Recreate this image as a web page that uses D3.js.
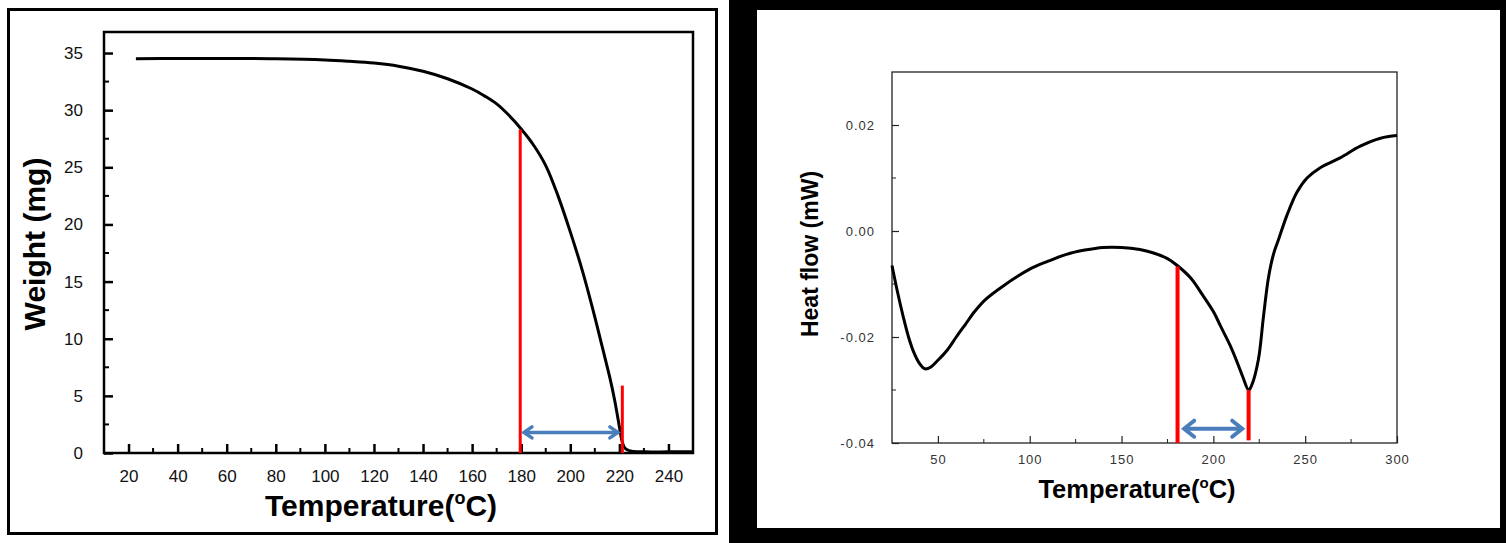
<!DOCTYPE html>
<html><head><meta charset="utf-8">
<script src="https://cdn.jsdelivr.net/npm/d3@7"></script>
<style>
html,body{margin:0;padding:0;background:#fff;}
svg{display:block;}
text{font-family:Arial,"Liberation Sans",sans-serif;}
</style></head>
<body>
<svg id="chart" width="1506" height="543"></svg>
<script>
// ---------- TGA (left) data ----------
const tgaTemp   = [23, 40, 60, 80, 100, 110, 120, 130, 140, 150, 160, 165, 170, 175, 180, 185, 190, 195, 200, 205, 210, 213, 216, 218, 220, 221, 222, 223, 225, 230, 240, 250];
const tgaWeight = [34.5, 34.52, 34.52, 34.5, 34.4, 34.28, 34.12, 33.85, 33.4, 32.75, 31.85, 31.25, 30.55, 29.55, 28.35, 26.95, 25.15, 22.5, 19.35, 15.9, 11.9, 9.3, 6.7, 4.7, 2.3, 1.1, 0.5, 0.3, 0.15, 0.1, 0.1, 0.1];
const tgaXTicks = [20, 40, 60, 80, 100, 120, 140, 160, 180, 200, 220, 240];
const tgaYTicks = [0, 5, 10, 15, 20, 25, 30, 35];
const tgaRedLines = [[179.6, 28.3], [221.2, 5.9]];   // [temperature, top weight]
const tgaArrow = [180.3, 220.2, 1.8];                  // [from, to, weight]

// ---------- DSC (right) data ----------
const dscTemp = [25, 28, 31, 34, 37, 40, 43, 46, 50, 55, 60, 65, 70, 76, 85, 100, 110, 120, 130, 140, 150, 160, 167, 175, 181, 188, 194, 200, 204, 209, 213, 216, 219.2, 221, 224.5, 227.3, 230, 232.8, 235.5, 240, 245.5, 251, 258, 269, 280, 291, 300];
const dscHeat = [-0.0065, -0.0115, -0.0160, -0.0200, -0.0230, -0.0250, -0.0260, -0.0257, -0.0244, -0.0225, -0.0200, -0.0176, -0.0152, -0.0129, -0.0105, -0.0072, -0.0057, -0.0044, -0.0036, -0.0031, -0.0031, -0.0035, -0.0041, -0.0052, -0.0067, -0.0090, -0.0120, -0.0152, -0.0180, -0.0215, -0.0248, -0.0275, -0.0300, -0.0290, -0.0243, -0.0161, -0.0088, -0.0043, -0.0016, 0.0029, 0.0073, 0.0100, 0.0119, 0.0138, 0.0160, 0.0175, 0.0180];
const dscXTicks = [50, 100, 150, 200, 250, 300];
const dscYTicks = [-0.04, -0.02, 0.00, 0.02];
const dscRedLines = [[180.5, -0.04, -0.0067], [219.2, -0.0395, -0.0300]]; // [temp, bottom, top]
const dscArrow = [183, 216.8, -0.0373];

const svg = d3.select("#chart");

function chevron(g, x, y, dir, color, w, len, half) {
  g.append("path")
    .attr("d", `M${x + dir * len},${y - half} L${x},${y} L${x + dir * len},${y + half}`)
    .attr("fill", "none").attr("stroke", color).attr("stroke-width", w)
    .attr("stroke-linejoin", "miter").attr("stroke-linecap", "round");
}

// ================= LEFT PANEL =================
svg.append("rect").attr("x", 8.5).attr("y", 9.5).attr("width", 708).attr("height", 524)
  .attr("fill", "#fff").attr("stroke", "#000").attr("stroke-width", 3);

{
  const L = 104, R = 693, T = 32, B = 453;
  const x = d3.scaleLinear().domain([10, 250]).range([L, R]);
  const y = d3.scaleLinear().domain([0, 36.84]).range([B, T]);
  const g = svg.append("g");

  const xMinor = d3.range(30, 250, 20);
  g.selectAll(".xm").data(xMinor).join("line")
    .attr("x1", d => x(d)).attr("x2", d => x(d)).attr("y1", B).attr("y2", B - 5)
    .attr("stroke", "#000").attr("stroke-width", 2);
  const yMinor = d3.range(2.5, 36, 5);
  g.selectAll(".ym").data(yMinor).join("line")
    .attr("x1", L).attr("x2", L + 5).attr("y1", d => y(d)).attr("y2", d => y(d))
    .attr("stroke", "#000").attr("stroke-width", 2);

  const xAxis = d3.axisBottom(x).tickValues(tgaXTicks).tickSizeInner(-9).tickSizeOuter(0).tickPadding(17);
  const gx = g.append("g").attr("transform", `translate(0,${B})`).call(xAxis);
  gx.select(".domain").remove();
  gx.selectAll(".tick line").attr("stroke", "#000").attr("stroke-width", 2.5);
  gx.selectAll(".tick text").attr("font-size", 17).attr("fill", "#111")
    .attr("font-family", 'Arial,"Liberation Sans",sans-serif');

  const yAxis = d3.axisLeft(y).tickValues(tgaYTicks).tickSizeInner(-9).tickSizeOuter(0).tickPadding(21);
  const gy = g.append("g").attr("transform", `translate(${L},0)`).call(yAxis);
  gy.select(".domain").remove();
  gy.selectAll(".tick line").attr("stroke", "#000").attr("stroke-width", 2.5);
  gy.selectAll(".tick text").attr("font-size", 17).attr("fill", "#111")
    .attr("font-family", 'Arial,"Liberation Sans",sans-serif');

  g.append("rect").attr("x", L).attr("y", T).attr("width", R - L).attr("height", B - T)
    .attr("fill", "none").attr("stroke", "#000").attr("stroke-width", 2.5);

  const line = d3.line().x(d => x(d[0])).y(d => y(d[1])).curve(d3.curveCatmullRom.alpha(0.5));
  g.append("path").datum(d3.zip(tgaTemp, tgaWeight)).attr("d", line)
    .attr("fill", "none").attr("stroke", "#000").attr("stroke-width", 3);

  g.selectAll(".red").data(tgaRedLines).join("line")
    .attr("x1", d => x(d[0])).attr("x2", d => x(d[0]))
    .attr("y1", B).attr("y2", d => y(d[1]))
    .attr("stroke", "#ff0000").attr("stroke-width", 3);

  const ay = y(tgaArrow[2]), ax1 = x(tgaArrow[0]), ax2 = x(tgaArrow[1]);
  g.append("line").attr("x1", ax1 + 2).attr("x2", ax2 - 2).attr("y1", ay).attr("y2", ay)
    .attr("stroke", "#4a7ebb").attr("stroke-width", 3.5);
  chevron(g, ax1 + 2, ay, 1, "#4a7ebb", 3.5, 8, 5.5);
  chevron(g, ax2 - 2, ay, -1, "#4a7ebb", 3.5, 8, 5.5);

  const xt = g.append("text").attr("x", 381).attr("y", 516).attr("text-anchor", "middle")
    .attr("font-size", 30).attr("font-weight", "bold").attr("fill", "#000");
  xt.append("tspan").text("Temperature(");
  xt.append("tspan").attr("font-size", 18).attr("dy", -12).text("o");
  xt.append("tspan").attr("dy", 12).text("C)");

  g.append("text").attr("transform", "translate(45,244) rotate(-90)").attr("text-anchor", "middle")
    .attr("font-size", 30).attr("font-weight", "bold").attr("fill", "#000").text("Weight (mg)");
}

// ================= RIGHT PANEL =================
svg.append("rect").attr("x", 729).attr("y", 0).attr("width", 777).attr("height", 543).attr("fill", "#000");
svg.append("rect").attr("x", 757).attr("y", 10).attr("width", 743).attr("height", 518).attr("fill", "#fff");

{
  const L = 892, R = 1397, T = 72, B = 443;
  const x = d3.scaleLinear().domain([25, 300]).range([L, R]);
  const y = d3.scaleLinear().domain([-0.04, 0.03]).range([B, T]);
  const g = svg.append("g");
  const axCol = "#222";

  const xMinor = d3.range(75, 300, 50);
  g.selectAll(".xm").data(xMinor).join("line")
    .attr("x1", d => x(d)).attr("x2", d => x(d)).attr("y1", B).attr("y2", B - 4)
    .attr("stroke", axCol).attr("stroke-width", 1);
  const yMinor = [-0.03, -0.01, 0.01];
  g.selectAll(".ym").data(yMinor).join("line")
    .attr("x1", L).attr("x2", L + 4).attr("y1", d => y(d)).attr("y2", d => y(d))
    .attr("stroke", axCol).attr("stroke-width", 1);

  const xAxis = d3.axisBottom(x).tickValues(dscXTicks).tickSizeInner(-7).tickSizeOuter(0).tickPadding(12);
  const gx = g.append("g").attr("transform", `translate(0,${B})`).call(xAxis);
  gx.select(".domain").remove();
  gx.selectAll(".tick line").attr("stroke", axCol).attr("stroke-width", 1.2);
  gx.selectAll(".tick text").attr("font-size", 13).attr("fill", "#333").attr("letter-spacing", 1)
    .attr("font-family", 'Arial,"Liberation Sans",sans-serif');

  const yAxis = d3.axisLeft(y).tickValues(dscYTicks).tickFormat(d3.format(".2f")).tickSizeInner(-7).tickSizeOuter(0).tickPadding(17);
  const gy = g.append("g").attr("transform", `translate(${L},0)`).call(yAxis);
  gy.select(".domain").remove();
  gy.selectAll(".tick line").attr("stroke", axCol).attr("stroke-width", 1.2);
  gy.selectAll(".tick text").attr("font-size", 13).attr("fill", "#333").attr("letter-spacing", 1)
    .attr("font-family", 'Arial,"Liberation Sans",sans-serif')
    .text(d => d3.format(".2f")(d).replace("−", "-"));

  g.append("rect").attr("x", L).attr("y", T).attr("width", R - L).attr("height", B - T)
    .attr("fill", "none").attr("stroke", axCol).attr("stroke-width", 1.3);

  const line = d3.line().x(d => x(d[0])).y(d => y(d[1])).curve(d3.curveCatmullRom.alpha(0.5));
  g.append("path").datum(d3.zip(dscTemp, dscHeat)).attr("d", line)
    .attr("fill", "none").attr("stroke", "#000").attr("stroke-width", 3);

  g.selectAll(".red").data(dscRedLines).join("line")
    .attr("x1", d => x(d[0])).attr("x2", d => x(d[0]))
    .attr("y1", d => y(d[1])).attr("y2", d => y(d[2]))
    .attr("stroke", "#ff0000").attr("stroke-width", 4);

  const ay = y(dscArrow[2]), ax1 = x(dscArrow[0]), ax2 = x(dscArrow[1]);
  g.append("line").attr("x1", ax1 + 2).attr("x2", ax2 - 2).attr("y1", ay).attr("y2", ay)
    .attr("stroke", "#4a7ebb").attr("stroke-width", 4);
  chevron(g, ax1 + 2, ay, 1, "#4a7ebb", 4, 10, 8);
  chevron(g, ax2 - 2, ay, -1, "#4a7ebb", 4, 10, 8);

  const xt = g.append("text").attr("x", 1137).attr("y", 498).attr("text-anchor", "middle")
    .attr("font-size", 25.5).attr("font-weight", "bold").attr("fill", "#000");
  xt.append("tspan").text("Temperature(");
  xt.append("tspan").attr("font-size", 15).attr("dy", -10).text("o");
  xt.append("tspan").attr("dy", 10).text("C)");

  g.append("text").attr("transform", "translate(818,254) rotate(-90)").attr("text-anchor", "middle")
    .attr("font-size", 23).attr("font-weight", "bold").attr("fill", "#000").text("Heat flow (mW)");
}
</script>
</body></html>
